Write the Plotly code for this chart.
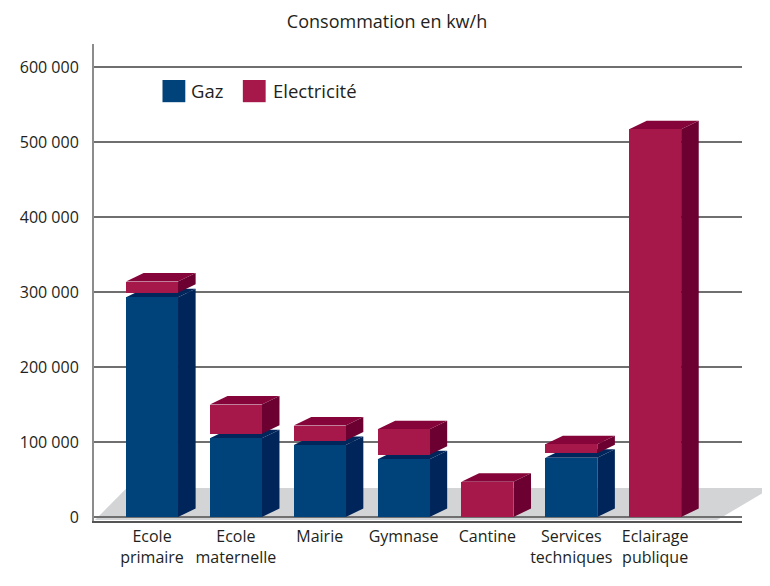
import plotly.graph_objects as go

# ---------------- data ----------------
categories = ["Ecole primaire", "Ecole maternelle", "Mairie", "Gymnase",
              "Cantine", "Services techniques", "Eclairage publique"]
tick_labels = ["Ecole<br>primaire", "Ecole<br>maternelle", "Mairie", "Gymnase",
               "Cantine", "Services<br>techniques", "Eclairage<br>publique"]
gaz = [293000, 105000, 96000, 77000, 0, 79000, 0]
electricite = [15000, 39000, 20000, 34000, 47000, 12000, 517000]
y_tick_values = [0, 100000, 200000, 300000, 400000, 500000, 600000]
y_tick_labels = ["0", "100 000", "200 000", "300 000", "400 000", "500 000", "600 000"]
series_names = ["Gaz", "Electricité"]
title_text = "Consommation en kw/h"

# ---------------- style ----------------
FONT = "Open Sans"
TXT = "#231f20"
GAZ_FRONT, GAZ_SIDE, GAZ_TOP = "#00437a", "#00255a", "#00265c"
EL_FRONT, EL_SIDE, EL_TOP = "#a6174a", "#6c0030", "#850439"
FLOOR = "#d3d4d6"
BAR_W = 0.62      # bar width (category units)
DX = 0.21         # 3D depth, horizontal (category units)
DY = 11300        # 3D depth, vertical (value units)
GAP = 6000        # visual gap between the stacked blocks

x = list(range(len(categories)))
elec_base = [g + GAP if g > 0 else 0 for g in gaz]

fig = go.Figure()
fig.add_trace(go.Bar(x=x, y=gaz, width=BAR_W, name=series_names[0],
                     marker=dict(color=GAZ_FRONT, line=dict(width=0)),
                     customdata=categories, hovertemplate="%{customdata}<br>Gaz: %{y}<extra></extra>"))
fig.add_trace(go.Bar(x=x, y=electricite, base=elec_base, width=BAR_W, name=series_names[1],
                     marker=dict(color=EL_FRONT, line=dict(width=0)),
                     customdata=categories, hovertemplate="%{customdata}<br>Electricité: %{y}<extra></extra>"))

shapes = []
# floor (decoration)
shapes.append(dict(type="path", xref="paper", yref="paper", layer="between",
                   path="M 0.0015,0.002 L 0.0505,0.0692 L 1.045,0.0692 L 0.9617,0.002 Z",
                   fillcolor=FLOOR, line=dict(width=0)))

def faces(xc, b, t, side_col, top_col):
    l, r = xc - BAR_W / 2, xc + BAR_W / 2
    side = f"M {r},{b} L {r+DX},{b+DY} L {r+DX},{t+DY} L {r},{t} Z"
    top = f"M {l},{t} L {r},{t} L {r+DX},{t+DY} L {l+DX},{t+DY} Z"
    return [dict(type="path", xref="x", yref="y", layer="between", path=side,
                 fillcolor=side_col, line=dict(width=0)),
            dict(type="path", xref="x", yref="y", layer="between", path=top,
                 fillcolor=top_col, line=dict(width=0))]

for i in x:
    if gaz[i] > 0:
        shapes += faces(i, 0, gaz[i], GAZ_SIDE, GAZ_TOP)
    if electricite[i] > 0:
        shapes += faces(i, elec_base[i], elec_base[i] + electricite[i], EL_SIDE, EL_TOP)

# manual legend squares
shapes.append(dict(type="rect", xref="paper", yref="paper", layer="above",
                   x0=0.1057, x1=0.1409, y0=0.878, y1=0.9245,
                   fillcolor=GAZ_FRONT, line=dict(width=0)))
shapes.append(dict(type="rect", xref="paper", yref="paper", layer="above",
                   x0=0.2297, x1=0.2649, y0=0.878, y1=0.9245,
                   fillcolor=EL_FRONT, line=dict(width=0)))

annotations = [
    dict(text=series_names[0], xref="paper", yref="paper", x=0.147, y=0.9015,
         xanchor="left", yanchor="middle", showarrow=False,
         font=dict(family=FONT, size=18.5, color=TXT)),
    dict(text=series_names[1], xref="paper", yref="paper", x=0.2726, y=0.9015,
         xanchor="left", yanchor="middle", showarrow=False,
         font=dict(family=FONT, size=18.5, color=TXT)),
]

fig.update_layout(
    width=762, height=578,
    margin=dict(l=81, r=28, t=36, b=65),
    paper_bgcolor="white", plot_bgcolor="white",
    barmode="overlay", bargap=0, showlegend=False,
    title=dict(text=title_text, x=0.4974, xanchor="center", y=0.9758, yanchor="middle",
               xref="container", yref="container",
               font=dict(family=FONT, size=18, color=TXT)),
    font=dict(family=FONT, size=16, color=TXT),
    shapes=shapes, annotations=annotations,
    xaxis=dict(range=[-0.692, 7.036], tickmode="array", tickvals=x, ticktext=tick_labels,
               showgrid=False, zeroline=False, showline=True, linecolor="#555555", linewidth=2,
               ticks="", tickfont=dict(family=FONT, size=16, color=TXT), fixedrange=True),
    yaxis=dict(range=[-5333, 630667], tickmode="array", tickvals=y_tick_values,
               ticktext=y_tick_labels, showgrid=True, gridcolor="#6f6f6f", gridwidth=1.6,
               zeroline=False, showline=True, linecolor="#8c8c8c", linewidth=2,
               ticks="", ticklabelstandoff=10,
               tickfont=dict(family=FONT, size=16, color=TXT), fixedrange=True),
)

fig.write_html("out.html")
